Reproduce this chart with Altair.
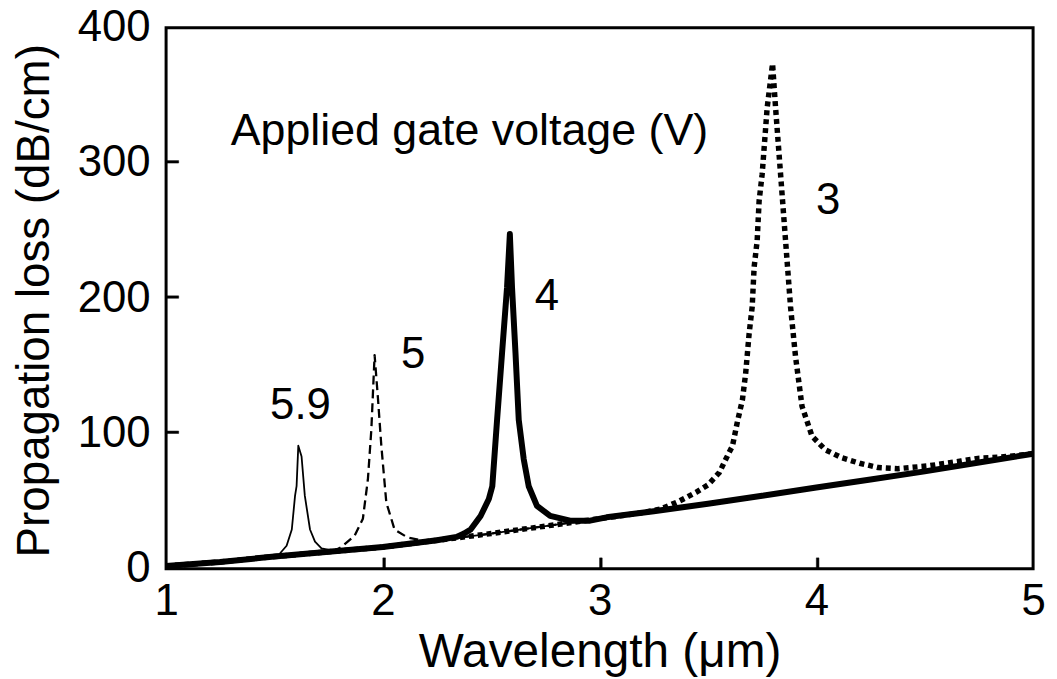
import altair as alt
import pandas as pd

# Shared background (free-carrier) loss
baseline_wl = [1.0, 1.25, 1.5, 1.75, 2.0, 2.25, 2.5, 2.75, 3.0, 3.25, 3.5, 3.75, 4.0, 4.25, 4.5, 4.75, 5.0]
baseline_val = [2, 5, 9, 12.5, 16, 21, 26, 31.5, 37, 42.5, 48, 54, 60, 66, 72, 78.5, 85]

# Resonance regions of each gate voltage
v59_wl = [1.52, 1.556, 1.58, 1.595, 1.602, 1.61, 1.625, 1.64, 1.664, 1.687, 1.717, 1.763, 1.80]
v59_val = [10.3, 17, 29, 54, 61, 91, 83, 54, 29, 20, 15, 13.5, 13.2]

v5_wl = [1.75, 1.778, 1.809, 1.87, 1.908, 1.931, 1.947, 1.962, 1.977, 1.993, 2.016, 2.054, 2.115, 2.176, 2.22]
v5_val = [12.3, 13.5, 16, 24.5, 37, 66, 103, 158, 127, 91, 49, 29, 23, 21, 21]

v4_wl = [2.34, 2.375, 2.405, 2.451, 2.489, 2.505, 2.527, 2.55, 2.573, 2.586, 2.596, 2.612, 2.627, 2.65,
         2.673, 2.711, 2.772, 2.864, 2.956, 3.032]
v4_val = [23.5, 26, 29, 39, 51.5, 61, 110, 159.5, 208, 247.5, 208, 159.5, 110, 81,
          61, 46.5, 39, 35.5, 35.5, 38]

v3_wl = [3.2, 3.28, 3.368, 3.445, 3.5, 3.552, 3.597, 3.613, 3.635, 3.659, 3.674, 3.69, 3.704, 3.713, 3.727,
         3.736, 3.75, 3.773, 3.798, 3.812, 3.835, 3.858, 3.881, 3.904, 3.934, 3.98, 4.041, 4.118, 4.2,
         4.286, 4.376, 4.514, 4.668, 4.745, 4.85]
v3_val = [41.5, 44, 50, 56.5, 62, 71, 85.8, 90.7, 108, 125, 144.6, 174, 193.6, 223, 242.6,
          272, 291.7, 340.7, 373.5, 340.7, 291.7, 242.6, 193.6, 156.8, 120, 98, 88, 82, 78,
          74.8, 74, 76, 79.6, 81.6, 82.5]

series_names = ["5.9", "5", "4", "3"]
label_wl = [1.62, 2.14, 2.757, 4.055]
label_val = [120, 158, 200.7, 272]

x_ticks = [2.0, 3.0, 4.0]
y_ticks = [100.0, 200.0, 300.0]


def build(name, pwl, pval):
    lo, hi = pwl[0], pwl[-1]
    rows = [(w, v) for w, v in zip(baseline_wl, baseline_val) if w < lo or w > hi]
    rows += list(zip(pwl, pval))
    rows.sort()
    return pd.DataFrame({"wl": [r[0] for r in rows], "loss": [r[1] for r in rows], "V": name})


d59 = build("5.9", v59_wl, v59_val)
d5 = build("5", v5_wl, v5_val)
d4 = build("4", v4_wl, v4_val)
d3 = build("3", v3_wl, v3_val)

FONT = "Liberation Sans"
xs = alt.Scale(domain=[1, 5], nice=False, zero=False)
ys = alt.Scale(domain=[0, 400], nice=False)

xenc = alt.X("wl:Q", scale=xs, axis=alt.Axis(
    title="Wavelength (μm)", values=[1, 2, 3, 4, 5], format="d", ticks=False, grid=False, domain=False,
    labelFontSize=44, labelFont=FONT, labelColor="black", labelPadding=11, labelFlush=False,
    titleFontSize=48, titleFont=FONT, titleFontWeight="normal", titleColor="black",
    titleY=84, titleBaseline="middle"))
yenc = alt.Y("loss:Q", scale=ys, axis=alt.Axis(
    title="Propagation loss (dB/cm)", values=[0, 100, 200, 300, 400], ticks=False, grid=False, domain=False,
    labelFontSize=44, labelFont=FONT, labelColor="black", labelPadding=16, labelFlush=False,
    titleFontSize=46, titleFont=FONT, titleFontWeight="normal", titleColor="black",
    titleAngle=270, titleX=-132, titleY=274, titleAlign="center", titleBaseline="middle"))


def line(df, width, dash=None, join="round"):
    kw = dict(color="black", strokeWidth=width, strokeJoin=join)
    if dash:
        kw["strokeDash"] = dash
    return alt.Chart(df).mark_line(**kw).encode(x=xenc, y=yenc, order="wl:Q")


l59 = line(d59, 1.8)
l5 = line(d5, 2.3, [9, 5])
l4 = line(d4, 6)
l3 = line(d3, 5.5, [5, 4], join="miter")

labels = alt.Chart(pd.DataFrame({"wl": label_wl, "loss": label_val, "t": series_names})).mark_text(
    font=FONT, fontSize=44, color="black", align="center", baseline="middle"
).encode(x=alt.X("wl:Q", scale=xs), y=alt.Y("loss:Q", scale=ys), text="t:N")

legend_title = alt.Chart(pd.DataFrame({"wl": [1.298], "loss": [323.5], "t": ["Applied gate voltage (V)"]})).mark_text(
    font=FONT, fontSize=45, color="black", align="left", baseline="middle"
).encode(x=alt.X("wl:Q", scale=xs), y=alt.Y("loss:Q", scale=ys), text="t:N")

# inward tick marks as thin filled rectangles
xt_df = pd.DataFrame({"a": x_ticks, "b": [w + 0.012 for w in x_ticks],
                      "c": [0.0] * len(x_ticks), "d": [8.0] * len(x_ticks)})
yt_df = pd.DataFrame({"a": [1.0] * len(y_ticks), "b": [1.058] * len(y_ticks),
                      "c": y_ticks, "d": [v + 1.8 for v in y_ticks]})
xt = alt.Chart(xt_df).mark_rect(fill="black", stroke="black", strokeWidth=0.5).encode(
    x=alt.X("a:Q", scale=xs), x2="b:Q", y=alt.Y("c:Q", scale=ys), y2="d:Q")
yt = alt.Chart(yt_df).mark_rect(fill="black", stroke="black", strokeWidth=0.5).encode(
    x=alt.X("a:Q", scale=xs), x2="b:Q", y=alt.Y("c:Q", scale=ys), y2="d:Q")

# plot frame
frame = alt.Chart(pd.DataFrame({"a": [0]})).mark_rect(
    fill="transparent", stroke="black", strokeWidth=3
).encode(x=alt.value(0), x2=alt.value(872), y=alt.value(0), y2=alt.value(544))

chart = alt.layer(l59, l5, l3, l4, xt, yt, labels, legend_title, frame).properties(
    width=872, height=544,
    autosize=alt.AutoSizeParams(type="none"),
    padding={"left": 159, "top": 18, "right": 16, "bottom": 110},
).configure_view(strokeWidth=0)

chart.save("out.html", embed_options={"renderer": "svg", "actions": False})
